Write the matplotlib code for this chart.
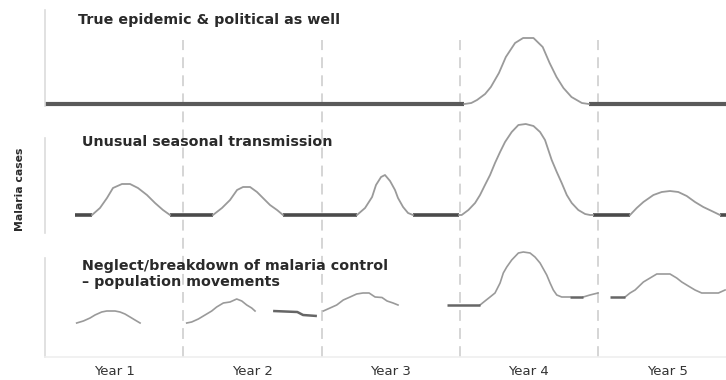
import matplotlib
matplotlib.use("Agg")
import matplotlib.pyplot as plt

# ---------------- data (x in months from start, y in relative cases) ----------------
years = ["Year 1", "Year 2", "Year 3", "Year 4", "Year 5"]
year_centers = [6, 18, 30, 42, 54]
year_bounds = [12, 24, 36, 48]

titles = ["True epidemic & political as well",
          "Unusual seasonal transmission",
          "Neglect/breakdown of malaria control\n– population movements"]

# Panel 1: stable baseline, one epidemic in year 4
p1_base_x = [[0.0, 36.4], [47.2, 59.1]]
p1_base_y = [[2, 2], [2, 2]]
p1_peak_x = [36.4, 37.0, 37.5, 38.2, 38.7, 39.4, 40.0, 40.8, 41.5, 42.4, 43.2, 43.8, 44.4, 45.0, 45.7, 46.6, 47.2]
p1_peak_y = [2, 3, 6, 12, 19, 33, 49, 63, 68, 68, 59, 43, 29, 18, 9, 3, 2]

# Panel 2: seasonal transmission
p2_base_x = [[2.6, 4.1], [10.85, 14.58], [20.66, 27.08], [31.94, 35.94], [47.57, 50.78], [58.59, 59.1]]
p2_base_y = [[18, 18], [18, 18], [18, 18], [18, 18], [18, 18], [18, 18]]
p2_season_x = [
    [4.08, 4.77, 5.38, 5.90, 6.68, 7.38, 8.07, 8.85, 9.55, 10.24, 10.85],
    [14.58, 15.36, 16.06, 16.67, 17.19, 17.80, 18.40, 18.92, 19.53, 20.14, 20.66],
    [27.08, 27.78, 28.39, 28.73, 29.17, 29.51, 29.95, 30.38, 30.64, 31.08, 31.51, 31.94],
    [35.94, 36.17, 36.75, 37.33, 37.76, 38.19, 38.63, 39.06, 39.50, 39.93, 40.51, 41.09, 41.73,
     42.40, 42.97, 43.40, 43.69, 43.98, 44.42, 44.85, 45.29, 45.72, 46.29, 46.88, 47.31, 47.57],
    [50.78, 51.36, 51.94, 52.81, 53.53, 54.25, 54.97, 55.70, 56.42, 57.14, 57.87, 58.59],
]
p2_season_y = [
    [18, 25, 35, 45, 49, 49, 45, 38, 30, 23, 18],
    [18, 25, 33, 43, 46, 46, 41, 35, 28, 23, 18],
    [18, 25, 36, 48, 56, 58, 52, 43, 35, 26, 20, 18],
    [18, 18, 23, 30, 38, 48, 58, 70, 81, 91, 101, 108, 109,
     107, 101, 93, 83, 73, 61, 50, 38, 30, 23, 19, 18, 18],
    [18, 25, 31, 38, 41, 42, 41, 37, 31, 26, 22, 18],
]

# Panel 3: neglect / population movements
p3_flat_x = [[19.8, 21.9, 22.4, 23.6], [34.87, 37.76], [45.57, 46.72], [49.05, 50.35]]
p3_flat_y = [[46, 45, 42, 41], [52, 52], [60, 60], [60, 60]]
p3_curve_x = [
    [2.75, 3.33, 3.91, 4.34, 4.92, 5.36, 6.08, 6.51, 6.94, 7.38, 7.81, 8.25],
    [12.30, 12.73, 13.31, 13.89, 14.47, 14.90, 15.48, 16.06, 16.64, 17.08, 17.51, 17.94, 18.23],
    [24.16, 24.74, 25.32, 25.89, 26.48, 27.05, 27.6, 28.13, 28.65, 29.25, 29.69, 30.21, 30.64],
    [37.76, 38.19, 38.63, 39.06, 39.50, 39.78, 40.08, 40.51, 41.09, 41.52, 42.10, 42.53, 42.97,
     43.26, 43.55, 43.84, 44.12, 44.42, 44.85, 45.57],
    [46.72, 47.3, 48.0],
    [50.35, 50.78, 51.22, 51.94, 52.52, 53.10, 53.67, 54.25, 54.83, 55.27, 55.84, 56.42, 57.00,
     57.73, 58.45, 59.03],
]
p3_curve_y = [
    [34, 36, 39, 42, 45, 46, 46, 45, 43, 40, 37, 34],
    [34, 35, 38, 42, 46, 50, 54, 55, 58, 56, 52, 49, 46],
    [46, 49, 52, 57, 60, 63, 64, 64, 60, 59.5, 56, 54, 52],
    [52, 56, 60, 64, 74, 84, 90, 97, 104, 105, 104, 100, 94,
     88, 82, 74, 67, 62, 60, 60],
    [60, 62, 64],
    [60, 64, 67, 75, 79, 83, 83, 83, 79, 75, 71, 67, 64, 64, 64, 67],
]

# ---------------- figure ----------------
W, H = 726, 380
fig = plt.figure(figsize=(W / 100, H / 100), dpi=100)

def px_axes(top, bottom, left=45, right=726):
    return [left / W, 1 - bottom / H, (right - left) / W, (bottom - top) / H]

ax1 = fig.add_axes(px_axes(10, 106), zorder=2)
ax2 = fig.add_axes(px_axes(138, 233), zorder=2)
ax3 = fig.add_axes(px_axes(258, 357), zorder=1)

XMAX = 59.11
ylims = [(0, 96), (0, 95), (0, 99)]
spine_col = "#dcdcdc"
thick_col = "#5a5a5a"
thin_col = "#9a9a9a"
text_col = "#2a2a2a"

for ax, yl in zip([ax1, ax2, ax3], ylims):
    ax.set_facecolor("none")
    ax.set_xlim(0, XMAX)
    ax.set_ylim(*yl)
    for s in ["top", "right", "bottom"]:
        ax.spines[s].set_visible(False)
    ax.spines["left"].set_color(spine_col)
    ax.spines["left"].set_linewidth(1.2)
    ax.set_yticks([])
    ax.set_xticks([])

ax3.spines["bottom"].set_visible(True)
ax3.spines["bottom"].set_color("#efefef")
ax3.spines["bottom"].set_linewidth(1.2)

# dashed year separators spanning all panels (drawn in bottom axes)
top_frac = (357 - 40) / (357 - 258)
for xb in year_bounds:
    ax3.axvline(xb, ymin=0, ymax=top_frac, color="#d2d2d2", lw=1.3,
                ls=(0, (6, 4)), clip_on=False, zorder=0)

# panel 1
for xs, ys in zip(p1_base_x, p1_base_y):
    ax1.plot(xs, ys, color=thick_col, lw=3, solid_capstyle="butt", clip_on=False)
ax1.plot(p1_peak_x, p1_peak_y, color=thin_col, lw=1.3, clip_on=False)

# panel 2
for xs, ys in zip(p2_base_x, p2_base_y):
    ax2.plot(xs, ys, color="#4a4a4a", lw=2.6, solid_capstyle="butt", clip_on=False)
for xs, ys in zip(p2_season_x, p2_season_y):
    ax2.plot(xs, ys, color=thin_col, lw=1.3, clip_on=False)

# panel 3
for xs, ys in zip(p3_curve_x, p3_curve_y):
    ax3.plot(xs, ys, color=thin_col, lw=1.2, clip_on=False)
for xs, ys in zip(p3_flat_x, p3_flat_y):
    ax3.plot(xs, ys, color="#666666", lw=1.8, solid_capstyle="butt", clip_on=False)

# panel titles
tkw = dict(fontsize=10.3, fontweight="bold", color=text_col, ha="left", va="center",
           family="DejaVu Sans")
ax1.text(2.86, 86, titles[0], **tkw)
ax2.text(3.2, 91, titles[1], **tkw)
ax3.text(3.2, 83, titles[2], linespacing=1.2, **tkw)

# x tick labels
ax3.set_xticks(year_centers)
ax3.set_xticklabels(years, fontsize=9.5, color="#333333")
ax3.tick_params(axis="x", length=0, pad=6)

# y label
fig.text(20 / W, 1 - 189 / H, "Malaria cases", rotation=90, ha="center", va="center",
         fontsize=7.8, fontweight="bold", color=text_col)

fig.savefig("out.png", dpi=100)
